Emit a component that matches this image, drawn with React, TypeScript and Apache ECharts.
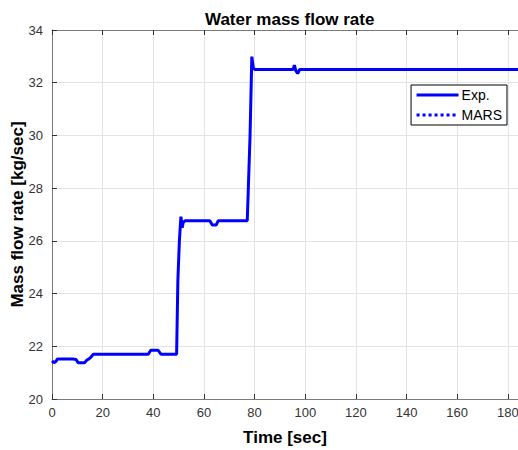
import React, { useEffect, useRef } from "react";
import * as echarts from "echarts";

const timeSec = [0, 0.8, 1.5, 2.2, 8.3, 9.5, 10.3, 12.9, 13.8, 14.6, 15.5, 16.3, 38, 39, 41.9, 43, 49.2, 49.7, 50.3, 50.9, 51.4, 51.8, 52.5, 62.3, 63.3, 64.8, 65.6, 77.1, 78.2, 78.9, 79.5, 80.2, 95.2, 95.7, 96.3, 97, 97.8, 184];
const expFlow = [21.45, 21.38, 21.42, 21.52, 21.52, 21.5, 21.38, 21.38, 21.48, 21.52, 21.6, 21.7, 21.7, 21.85, 21.85, 21.7, 21.7, 24.5, 26.0, 26.92, 26.5, 26.7, 26.76, 26.76, 26.6, 26.6, 26.76, 26.76, 30, 32.99, 32.55, 32.5, 32.5, 32.67, 32.45, 32.35, 32.5, 32.5];
const marsFlow: number[][] = [];
const seriesNames = ["Exp.", "MARS"];

export default function App() {
  const ref = useRef<HTMLDivElement>(null);
  useEffect(() => {
    if (!ref.current) return;
    const chart = echarts.init(ref.current, null, { renderer: "svg" });
    const font = "Liberation Sans, Arial, Helvetica, sans-serif";
    const labelColor = "#333";
    const axisCommon = {
      axisLine: { show: true, lineStyle: { color: "#7a7a7a", width: 1 } },
      axisTick: { show: true, inside: true, length: 5, lineStyle: { color: "#333" } },
    };
    chart.setOption({
      animation: false,
      backgroundColor: "#fff",
      textStyle: { fontFamily: font },
      title: {
        text: "Water mass flow rate",
        left: 200,
        top: 6,
        textStyle: { fontSize: 17, fontWeight: "bold", color: "#000", fontFamily: font },
      },
      grid: { left: 52, right: 0, top: 30, bottom: 51, outerBoundsMode: "none", containLabel: false },
      legend: {
        data: seriesNames,
        orient: "vertical",
        right: 11,
        top: 85,
        padding: [3, 5, 3, 4],
        itemGap: 6,
        itemWidth: 42,
        itemHeight: 14,
        borderColor: "#000",
        borderWidth: 1,
        backgroundColor: "#fff",
        itemStyle: { opacity: 0 },
        lineStyle: { width: 3 },
        textStyle: { fontSize: 14, color: "#000", fontFamily: font, padding: [0, 0, 0, -2] },
      },
      xAxis: [
        {
          type: "value",
          min: 0,
          max: 184,
          interval: 20,
          name: "Time [sec]",
          nameLocation: "middle",
          nameGap: 30,
          nameMoveOverlap: false,
          nameTextStyle: { fontSize: 17, fontWeight: "bold", color: "#000", fontFamily: font },
          ...axisCommon,
          axisLabel: {
            fontSize: 13,
            color: labelColor,
            margin: 7,
            formatter: (v: number) => (v % 20 === 0 ? String(v) : ""),
          },
          splitLine: { show: true, lineStyle: { color: "#e3e3e3", width: 1 } },
        },
        {
          type: "value",
          position: "top",
          min: 0,
          max: 184,
          interval: 20,
          ...axisCommon,
          axisLabel: { show: false },
          splitLine: { show: false },
        },
      ],
      yAxis: [
        {
          type: "value",
          min: 20,
          max: 34,
          interval: 2,
          name: "Mass flow rate [kg/sec]",
          nameLocation: "middle",
          nameGap: 26,
          nameMoveOverlap: false,
          nameTextStyle: { fontSize: 17, fontWeight: "bold", color: "#000", fontFamily: font },
          ...axisCommon,
          axisLabel: { fontSize: 13, color: labelColor, margin: 9 },
          splitLine: { show: true, lineStyle: { color: "#e3e3e3", width: 1 } },
        },
      ],
      series: [
        {
          name: seriesNames[0],
          type: "line",
          symbol: "none",
          data: timeSec.map((t, i) => [t, expFlow[i]]),
          lineStyle: { color: "#0000ff", width: 3 },
          itemStyle: { color: "#0000ff" },
        },
        {
          name: seriesNames[1],
          type: "line",
          symbol: "none",
          data: marsFlow,
          lineStyle: { color: "#0000ff", width: 3, type: "dotted" },
          itemStyle: { color: "#0000ff" },
        },
      ],
    });
    return () => chart.dispose();
  }, []);
  return <div ref={ref} style={{ width: 518, height: 450, position: "absolute", left: 0, top: 0 }} />;
}
